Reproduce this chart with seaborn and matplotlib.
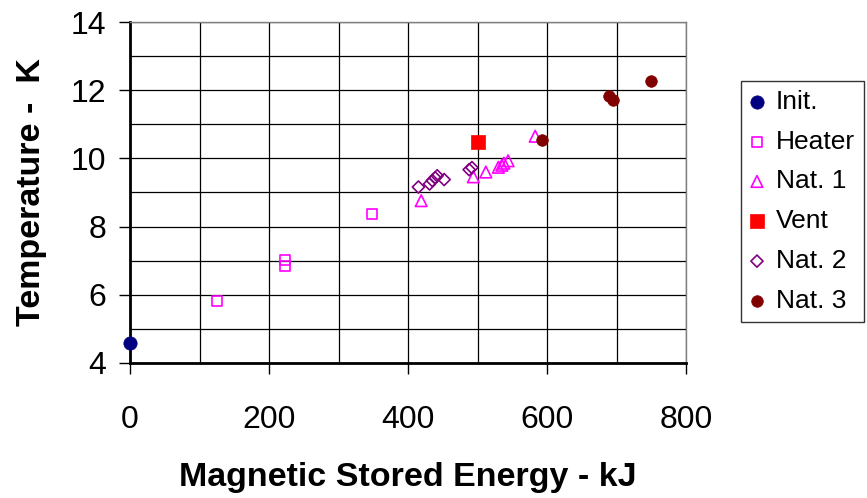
import matplotlib
matplotlib.use("Agg")
import matplotlib.pyplot as plt
import seaborn as sns
import numpy as np

# Data
init_x = [0]
init_y = [4.6]
heater_x = [125, 223, 223, 348]
heater_y = [5.82, 7.02, 6.85, 8.38]
nat1_x = [419, 494, 512, 530, 535, 538, 544, 583]
nat1_y = [8.76, 9.46, 9.6, 9.74, 9.8, 9.86, 9.93, 10.65]
vent_x = [501]
vent_y = [10.47]
nat2_x = [415, 431, 435, 439, 442, 452, 488, 492]
nat2_y = [9.16, 9.25, 9.35, 9.43, 9.49, 9.38, 9.67, 9.73]
nat3_x = [593, 689, 695, 749]
nat3_y = [10.55, 11.82, 11.72, 12.27]

x_ticks = [0, 200, 400, 600, 800]
y_ticks = [4, 6, 8, 10, 12, 14]

sns.set_theme(style="white")
plt.rcParams['font.family'] = ['Liberation Sans', 'DejaVu Sans']

fig = plt.figure(figsize=(8.67, 4.98), dpi=100)
ax = fig.add_axes([130/867, 1-363/498, (686-130)/867, (363-22)/498])

series = [
    ("Init.", init_x, init_y, 'o', '#000080', True, 92),
    ("Heater", heater_x, heater_y, 's', '#FF00FF', False, 50),
    ("Nat. 1", nat1_x, nat1_y, '^', '#FF00FF', False, 70),
    ("Vent", vent_x, vent_y, 's', '#FF0000', True, 100),
    ("Nat. 2", nat2_x, nat2_y, 'D', '#800080', False, 38),
    ("Nat. 3", nat3_x, nat3_y, 'o', '#800000', True, 70),
]
for label, xs, ys, mk, col, filled, s in series:
    if filled:
        sns.scatterplot(x=xs, y=ys, marker=mk, s=s, color=col, edgecolor=col,
                        linewidth=0.5, label=label, ax=ax, zorder=3, clip_on=False)
    else:
        sns.scatterplot(x=xs, y=ys, marker=mk, s=s, facecolor='none', edgecolor=col,
                        linewidth=1.2, label=label, ax=ax, zorder=3, clip_on=False)

ax.set_xlim(0, 800)
ax.set_ylim(4, 14)
ax.set_xticks(x_ticks)
ax.set_yticks(y_ticks)
ax.set_xticks(np.arange(0, 801, 100), minor=True)
ax.set_yticks(np.arange(4, 15, 1), minor=True)
ax.grid(True, which='both', color='black', linewidth=0.9)
ax.set_axisbelow(True)
ax.tick_params(axis='both', which='major', direction='out', length=8, width=1,
               color='black', labelsize=23, labelcolor='black', bottom=True, left=True)
ax.tick_params(axis='x', which='major', pad=22)
ax.tick_params(axis='y', which='major', pad=9)
ax.tick_params(which='minor', length=0)
ax.set_xticklabels([str(v) for v in x_ticks])
ax.set_yticklabels([str(v) for v in y_ticks])

for side in ['left', 'bottom']:
    ax.spines[side].set_color('black')
    ax.spines[side].set_linewidth(2)
for side in ['top', 'right']:
    ax.spines[side].set_color('#808080')
    ax.spines[side].set_linewidth(1)

ax.set_xlabel("Magnetic Stored Energy - kJ", fontsize=24.5, fontweight='bold',
              color='black', labelpad=20)
ax.set_ylabel("Temperature -  K", fontsize=24.5, fontweight='bold',
              color='black', labelpad=17)

leg = ax.legend(loc='upper left', bbox_to_anchor=(741/867, 1-81/498),
                bbox_transform=fig.transFigure, frameon=True, fancybox=False,
                edgecolor='black', fontsize=19, handletextpad=0.45,
                labelspacing=0.6, borderpad=0.33, handlelength=0.55, borderaxespad=0)
leg.get_frame().set_linewidth(1)
for t in leg.get_texts():
    t.set_color('black')

fig.savefig("out.png", dpi=100)
